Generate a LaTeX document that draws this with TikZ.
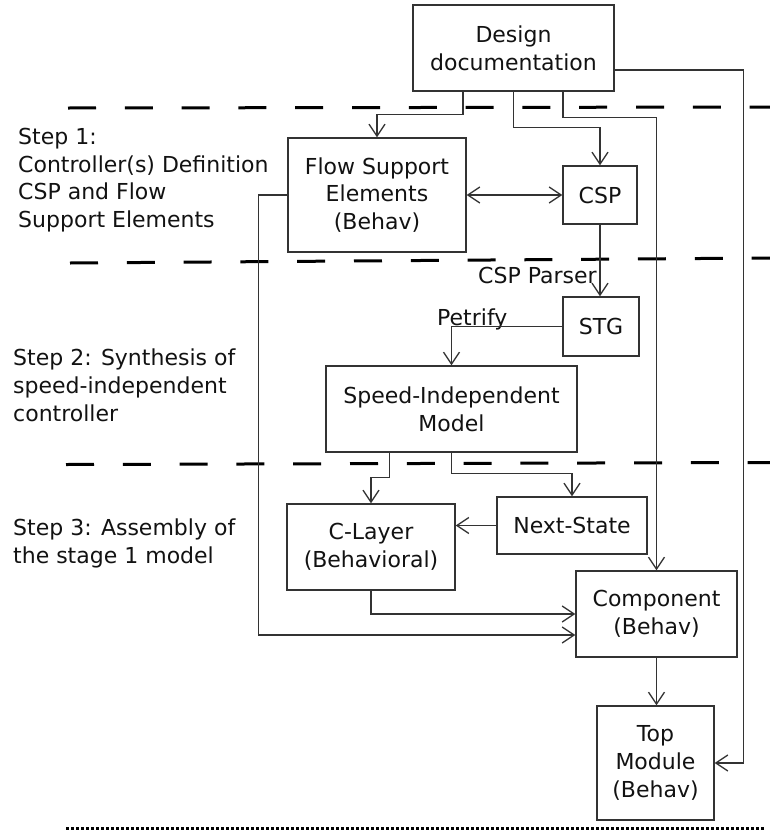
\documentclass[tikz,border=0pt]{standalone}
\usepackage{fontspec}
\setmainfont{DejaVu Sans}
\usetikzlibrary{arrows.meta}
\definecolor{ink}{gray}{0.2}
\definecolor{txt}{gray}{0.07}
\begin{document}
\begin{tikzpicture}[x=1pt,y=-1pt,
  every node/.style={font=\fontsize{22}{27.7}\selectfont, inner sep=0pt, text=txt},
  blk/.style={draw=ink, line width=1.4pt, align=center},
  link/.style={draw=ink, line width=1.3pt, -{Straight Barb[length=12pt,width=16pt]}},
  twoway/.style={draw=ink, line width=1.3pt, {Straight Barb[length=12pt,width=16pt]}-{Straight Barb[length=12pt,width=16pt]}},
  stage/.style={line width=3pt, draw=black, dash pattern=on 28pt off 28.8pt},
  endrule/.style={line width=3pt, draw=black, dash pattern=on 3pt off 2pt},
  steptext/.style={anchor=base west, align=left},
  tag/.style={anchor=base west}]
\useasboundingbox (0,0) rectangle (770,830);

% stage separators
\draw[stage] (68,108) -- (770,107);
\draw[stage] (70,263) -- (770,258);
\draw[stage] (66,464.5) -- (770,462.5);
\draw[endrule] (66,828) -- (765,828);

% step descriptions (anchored at the baseline of the last line)
\node[steptext] (s1) at (18,227.5) {Step 1:\\Controller(s) Definition\\CSP and Flow\\Support Elements};
\node[steptext] (s2) at (13,421) {Step 2: Synthesis of\\speed-independent\\controller};
\node[steptext] (s3) at (13,563) {Step 3: Assembly of\\the stage 1 model};

% blocks
\node[blk, minimum width=201pt, minimum height=86pt] (design) at (513.5,48) {Design\\documentation};
\node[blk, minimum width=178pt, minimum height=114pt] (fse) at (377,195) {Flow Support\\Elements\\(Behav)};
\node[blk, minimum width=74pt, minimum height=58pt] (csp) at (600,195) {CSP};
\node[blk, minimum width=76pt, minimum height=59pt] (stg) at (601,326.5) {STG};
\node[blk, minimum width=251pt, minimum height=86pt] (sim) at (451.5,409) {Speed-Independent\\Model};
\node[blk, minimum width=168pt, minimum height=86pt] (cl) at (371,547) {C-Layer\\(Behavioral)};
\node[blk, minimum width=150pt, minimum height=57pt] (ns) at (572,525.5) {Next-State};
\node[blk, minimum width=161pt, minimum height=86pt] (comp) at (656.5,614) {Component\\(Behav)};
\node[blk, minimum width=117pt, minimum height=114pt] (top) at (655.5,763) {Top\\Module\\(Behav)};

% tool labels
\node[tag] (parser) at (478,283) {CSP Parser};
\node[tag] (petrify) at (437,325) {Petrify};

% connectors
\draw[link] ([xshift=-50.5pt]design.south) |- ([yshift=23pt]fse.north) -- (fse.north);
\draw[link] (design.south) |- ([yshift=38pt]csp.north) -- (csp.north);
\draw[link] ([xshift=49.5pt]design.south) |- ([yshift=453pt]comp.north) -- (comp.north);
\draw[link] ([yshift=-22pt]design.east) -| ([xshift=29pt]top.east) -- (top.east);
\draw[twoway] (fse.east) -- (csp.west);
\draw[link] (fse.west) -- ++(-29pt,0) |- ([yshift=-21pt]comp.west);
\draw[link] (csp.south) -- (csp.south |- stg.north);
\draw[link] (stg.west) -| (sim.north);
\draw[link] ([xshift=-62pt]sim.south) |- ([yshift=26pt]cl.north) -- (cl.north);
\draw[link] (sim.south) |- ([yshift=23pt]ns.north) -- (ns.north);
\draw[link] (ns.west) -- (cl.east |- ns.west);
\draw[link] (cl.south) |- (comp.west);
\draw[link] (comp.south) -- (comp.south |- top.north);
\end{tikzpicture}
\end{document}
